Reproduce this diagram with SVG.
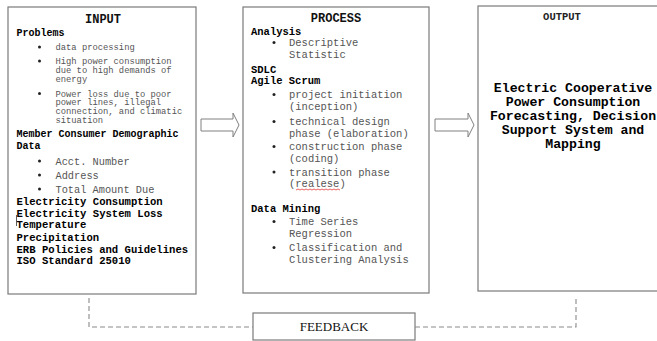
<svg xmlns="http://www.w3.org/2000/svg" width="657" height="341" viewBox="0 0 657 341">
<style>
.box{fill:#fff;stroke:#7a7a7a;stroke-width:1.2}
.t{font-family:"Liberation Mono","Courier New",monospace}
.h{font-weight:bold;fill:#000}
.r{fill:#555}
.ttl{font-weight:bold;font-size:12px;fill:#111;text-anchor:middle}
.s{font-size:8.8px}
.m{font-size:10.3px}
.b10{font-size:10px}
.b11{font-size:10.6px}
.p{font-size:10.5px}
.dot{fill:#222}
.dash{fill:none;stroke:#8a8a8a;stroke-width:1.1;stroke-dasharray:5,3}
.arr{fill:#fff;stroke:#808080;stroke-width:1}
</style>
<rect width="657" height="341" fill="#fff"/>
<g id="input">
<rect class="box" x="8" y="7" width="188" height="287"/>
<text class="t ttl" x="103" y="22.5">INPUT</text>
<text class="t h b10" x="16.5" y="35.5">Problems</text>
<circle class="dot" cx="39.5" cy="47" r="1.5"/>
<text class="t r s" x="55.5" y="50">data processing</text>
<circle class="dot" cx="39.5" cy="61" r="1.5"/>
<text class="t r s" x="55.5" y="64">High power consumption</text>
<text class="t r s" x="55.5" y="72.5">due to high demands of</text>
<text class="t r s" x="55.5" y="81.5">energy</text>
<circle class="dot" cx="39.5" cy="93.5" r="1.5"/>
<text class="t r s" x="55.5" y="96.5">Power loss due to poor</text>
<text class="t r s" x="55.5" y="105">power lines, illegal</text>
<text class="t r s" x="55.5" y="114">connection, and climatic</text>
<text class="t r s" x="55.5" y="122.5">situation</text>
<text class="t h b10" x="16.5" y="136.5">Member Consumer Demographic</text>
<text class="t h b10" x="16.5" y="149">Data</text>
<circle class="dot" cx="39.5" cy="161" r="1.5"/>
<text class="t r m" x="55.5" y="164.5">Acct. Number</text>
<circle class="dot" cx="39.5" cy="175" r="1.5"/>
<text class="t r m" x="55.5" y="178.5">Address</text>
<circle class="dot" cx="39.5" cy="189" r="1.5"/>
<text class="t r m" x="55.5" y="192.5">Total Amount Due</text>
<text class="t h b11" x="16.5" y="205">Electricity Consumption</text>
<text class="t h b11" x="16.5" y="216.7">Electricity System Loss</text>
<text class="t h b11" x="16.5" y="228.3">Temperature</text>
<text class="t h b11" x="16.5" y="240.5">Precipitation</text>
<text class="t h b11" x="16.5" y="252.5">ERB Policies and Guidelines</text>
<text class="t h b11" x="16.5" y="263.5">ISO Standard 25010</text>
<line x1="16.5" y1="215" x2="16.5" y2="226" stroke="#333" stroke-width="0.8"/>
</g>
<g id="process">
<rect class="box" x="243" y="7" width="186" height="286"/>
<text class="t ttl" x="336" y="21.5">PROCESS</text>
<text class="t h p" x="251" y="35">Analysis</text>
<circle class="dot" cx="274" cy="42.5" r="1.5"/>
<text class="t r p" x="289" y="46">Descriptive</text>
<text class="t r p" x="289" y="58">Statistic</text>
<text class="t h p" x="251" y="72.5">SDLC</text>
<text class="t h p" x="251" y="83.5">Agile Scrum</text>
<circle class="dot" cx="274" cy="94.5" r="1.5"/>
<text class="t r p" x="289" y="98">project initiation</text>
<text class="t r p" x="289" y="110">(inception)</text>
<circle class="dot" cx="274" cy="121.5" r="1.5"/>
<text class="t r p" x="289" y="125">technical design</text>
<text class="t r p" x="289" y="137">phase (elaboration)</text>
<circle class="dot" cx="274" cy="146.5" r="1.5"/>
<text class="t r p" x="289" y="150">construction phase</text>
<text class="t r p" x="289" y="162">(coding)</text>
<circle class="dot" cx="274" cy="172" r="1.5"/>
<text class="t r p" x="289" y="175.5">transition phase</text>
<text class="t r p" x="289" y="187">(realese)</text>
<polyline points="296,190 298,189 300,190 302,189 304,190 306,189 308,190 310,189 312,190 314,189 316,190 318,189 320,190 322,189 324,190 326,189 328,190 330,189 332,190 334,189 336,190 338,189 340,190" fill="none" stroke="#e02020" stroke-width="0.7"/>
<text class="t h p" x="251" y="212">Data Mining</text>
<circle class="dot" cx="274" cy="221.5" r="1.5"/>
<text class="t r p" x="289" y="225">Time Series</text>
<text class="t r p" x="289" y="237">Regression</text>
<circle class="dot" cx="274" cy="247.5" r="1.5"/>
<text class="t r p" x="289" y="251">Classification and</text>
<text class="t r p" x="289" y="263">Clustering Analysis</text>
</g>
<g id="output">
<rect class="box" x="478" y="6" width="185" height="285"/>
<text class="t" x="562" y="20" font-size="10.5" font-weight="bold" fill="#222" text-anchor="middle">OUTPUT</text>
<g class="t h" font-size="13.2" text-anchor="middle">
<text x="573" y="91.5">Electric Cooperative</text>
<text x="573" y="105.5">Power Consumption</text>
<text x="573" y="119.5">Forecasting, Decision</text>
<text x="573" y="133.5">Support System and</text>
<text x="573" y="147.5">Mapping</text>
</g>
</g>
<g id="feedback">
<rect class="box" x="253" y="313" width="162" height="27"/>
<text x="334" y="331" font-family="Liberation Serif,Times New Roman,serif" font-size="13" fill="#111" text-anchor="middle">FEEDBACK</text>
</g>
<g id="connectors">
<polygon class="arr" points="201,119 233,119 233,113 239,125 233,137 233,131 201,131"/>
<polygon class="arr" points="435,119 468,119 468,113 474,125 468,137 468,131 435,131"/>
<polyline class="dash" points="89,298 89,327 253,327"/>
<polyline class="dash" points="415,327 576,327 576,297"/>
</g>
</svg>
